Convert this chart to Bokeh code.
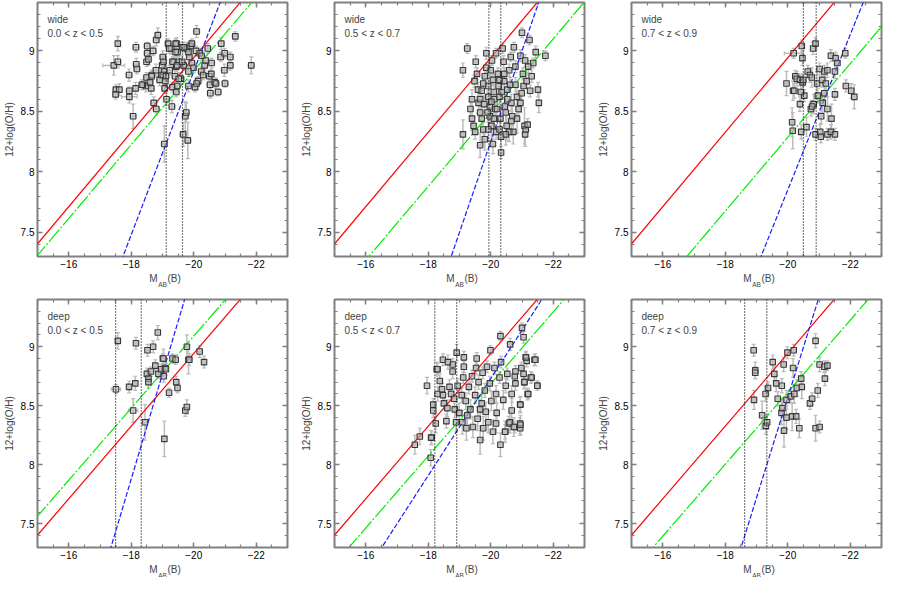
import numpy as np
from bokeh.plotting import figure
from bokeh.layouts import column, row
from bokeh.models import (Range1d, SingleIntervalTicker, CustomJSTickFormatter, LinearAxis,
                          Span, Label, Title, Whisker, TeeHead, ColumnDataSource)
from bokeh.embed import file_html
from bokeh.resources import INLINE

# each point: (M_AB(B), 12+log(O/H), err on O/H, err on M)
wide_z1 = [
    (-17.57, 9.06, 0.06, 0.05), (-17.44, 8.88, 0.08, 0.35), (-17.57, 8.91, 0.05, 0.10),
    (-17.51, 8.68, 0.04, 0.10), (-17.62, 8.68, 0.05, 0.10), (-17.50, 8.64, 0.04, 0.10),
    (-17.94, 8.62, 0.05, 0.25), (-17.94, 8.67, 0.03, 0.10), (-17.93, 8.80, 0.05, 0.10),
    (-18.06, 8.46, 0.10, 0.10), (-18.15, 9.03, 0.04, 0.10), (-18.16, 8.89, 0.05, 0.10),
    (-18.18, 8.85, 0.04, 0.10), (-18.14, 8.69, 0.05, 0.10), (-18.51, 9.04, 0.03, 0.10),
    (-18.51, 8.98, 0.03, 0.10), (-18.49, 8.91, 0.04, 0.10), (-18.55, 8.93, 0.05, 0.10),
    (-18.49, 8.78, 0.04, 0.10), (-18.47, 8.71, 0.05, 0.10), (-18.37, 8.72, 0.04, 0.10),
    (-18.60, 8.74, 0.05, 0.10), (-18.66, 8.80, 0.04, 0.10), (-18.64, 8.69, 0.05, 0.10),
    (-18.70, 9.00, 0.04, 0.10), (-18.79, 8.84, 0.05, 0.10), (-18.72, 8.57, 0.05, 0.10),
    (-18.80, 8.52, 0.05, 0.10), (-18.80, 9.09, 0.05, 0.10), (-18.85, 9.13, 0.06, 0.10),
    (-18.91, 8.76, 0.05, 0.10), (-18.96, 8.80, 0.05, 0.10), (-18.99, 8.88, 0.04, 0.10),
    (-19.01, 8.95, 0.05, 0.10), (-19.03, 8.91, 0.05, 0.10), (-19.06, 8.83, 0.04, 0.10),
    (-19.09, 8.75, 0.05, 0.10), (-19.07, 8.69, 0.04, 0.10), (-19.06, 8.23, 0.15, 0.10),
    (-19.13, 8.60, 0.05, 0.10), (-19.18, 9.06, 0.04, 0.10), (-19.23, 8.84, 0.04, 0.10),
    (-19.28, 9.02, 0.05, 0.10), (-19.30, 8.54, 0.05, 0.10), (-19.32, 8.70, 0.04, 0.10),
    (-19.36, 8.91, 0.04, 0.10), (-19.40, 8.79, 0.05, 0.10), (-19.44, 8.87, 0.04, 0.10),
    (-19.45, 9.06, 0.05, 0.10), (-19.48, 8.99, 0.04, 0.10), (-19.42, 8.99, 0.04, 0.10),
    (-19.44, 8.66, 0.04, 0.10), (-19.47, 8.71, 0.05, 0.10), (-19.52, 8.91, 0.04, 0.10),
    (-19.59, 8.77, 0.05, 0.10), (-19.63, 9.03, 0.04, 0.10), (-19.66, 8.31, 0.10, 0.10),
    (-19.68, 8.88, 0.04, 0.10), (-19.73, 8.46, 0.12, 0.10), (-19.76, 8.49, 0.08, 0.10),
    (-19.78, 9.02, 0.05, 0.10), (-19.81, 8.26, 0.15, 0.10), (-19.83, 8.71, 0.05, 0.10),
    (-19.86, 8.95, 0.04, 0.10), (-19.90, 9.04, 0.04, 0.10), (-19.94, 8.90, 0.04, 0.10),
    (-19.99, 8.86, 0.04, 0.10), (-20.04, 8.70, 0.04, 0.10), (-20.07, 9.00, 0.04, 0.10),
    (-20.09, 9.16, 0.05, 0.10), (-20.14, 8.75, 0.04, 0.10), (-20.19, 8.98, 0.04, 0.10),
    (-20.24, 8.83, 0.04, 0.10), (-20.30, 8.80, 0.04, 0.10), (-20.35, 8.88, 0.04, 0.10),
    (-20.38, 8.92, 0.04, 0.10), (-20.45, 9.02, 0.04, 0.10), (-20.50, 8.79, 0.04, 0.10),
    (-20.52, 8.72, 0.04, 0.10), (-20.53, 8.65, 0.04, 0.10), (-20.57, 8.90, 0.04, 0.10),
    (-20.67, 8.74, 0.04, 0.10), (-20.78, 8.66, 0.03, 0.10), (-20.86, 8.95, 0.04, 0.10),
    (-20.88, 9.06, 0.05, 0.10), (-20.98, 8.84, 0.05, 0.10), (-20.99, 8.98, 0.04, 0.10),
    (-21.00, 8.73, 0.03, 0.10), (-21.17, 8.95, 0.04, 0.10), (-21.17, 8.88, 0.04, 0.10),
    (-21.33, 9.12, 0.04, 0.10), (-21.84, 8.88, 0.07, 0.10), (-19.01, 8.80, 0.05, 0.10),
    (-19.11, 8.79, 0.04, 0.10), (-18.65, 8.79, 0.05, 0.10), (-18.34, 8.72, 0.04, 0.10),
    (-19.32, 8.91, 0.04, 0.10), (-19.47, 8.88, 0.04, 0.10), (-19.63, 8.91, 0.05, 0.10),
    (-19.83, 8.99, 0.04, 0.10), (-19.94, 9.06, 0.04, 0.10), (-20.25, 8.96, 0.04, 0.10),
    (-20.56, 8.81, 0.04, 0.10), (-20.71, 8.73, 0.04, 0.10), (-19.52, 8.77, 0.05, 0.10),
    (-19.83, 8.83, 0.04, 0.10), (-20.09, 8.73, 0.05, 0.10), (-19.22, 9.02, 0.04, 0.10),
    (-19.42, 9.06, 0.04, 0.10), (-19.68, 9.03, 0.04, 0.10),
]

wide_z2 = [
    (-19.25, 9.02, 0.04, 0.10), (-19.11, 8.84, 0.06, 0.05), (-19.11, 8.31, 0.12, 0.05),
    (-19.40, 8.60, 0.08, 0.05), (-19.35, 8.52, 0.06, 0.05), (-19.40, 8.44, 0.10, 0.05),
    (-19.45, 8.38, 0.07, 0.05), (-19.50, 8.33, 0.06, 0.05), (-19.52, 8.91, 0.05, 0.05),
    (-19.48, 8.75, 0.05, 0.05), (-19.59, 8.68, 0.06, 0.05), (-19.61, 8.57, 0.08, 0.05),
    (-19.66, 8.49, 0.07, 0.05), (-19.71, 8.44, 0.10, 0.05), (-19.76, 8.35, 0.06, 0.05),
    (-19.81, 8.27, 0.09, 0.05), (-19.81, 8.79, 0.05, 0.05), (-19.86, 8.98, 0.05, 0.05),
    (-19.86, 8.86, 0.04, 0.05), (-19.92, 8.71, 0.06, 0.05), (-19.92, 8.62, 0.05, 0.05),
    (-19.97, 8.54, 0.08, 0.05), (-19.97, 8.46, 0.06, 0.05), (-20.02, 8.38, 0.12, 0.05),
    (-20.00, 8.84, 0.05, 0.05), (-20.04, 8.92, 0.04, 0.05), (-20.07, 8.76, 0.05, 0.05),
    (-20.10, 8.66, 0.06, 0.05), (-20.12, 8.60, 0.07, 0.05), (-20.14, 8.52, 0.08, 0.05),
    (-20.17, 8.33, 0.06, 0.05), (-20.23, 8.81, 0.05, 0.05), (-20.25, 8.71, 0.05, 0.05),
    (-20.28, 8.62, 0.06, 0.05), (-20.31, 8.44, 0.10, 0.05), (-20.33, 8.29, 0.08, 0.05),
    (-20.33, 8.16, 0.05, 0.05), (-20.38, 9.02, 0.04, 0.05), (-20.41, 8.91, 0.05, 0.05),
    (-20.43, 8.75, 0.05, 0.05), (-20.45, 8.54, 0.07, 0.05), (-20.48, 8.49, 0.08, 0.05),
    (-20.51, 8.38, 0.12, 0.05), (-20.53, 8.68, 0.06, 0.05), (-20.59, 8.84, 0.05, 0.05),
    (-20.64, 8.95, 0.04, 0.05), (-20.66, 8.57, 0.07, 0.05), (-20.69, 8.46, 0.08, 0.05),
    (-20.72, 8.33, 0.10, 0.05), (-20.74, 9.03, 0.04, 0.05), (-20.79, 8.87, 0.05, 0.05),
    (-20.79, 8.72, 0.06, 0.05), (-20.84, 8.62, 0.08, 0.05), (-20.89, 8.52, 0.10, 0.05),
    (-20.95, 8.96, 0.05, 0.05), (-21.00, 9.15, 0.04, 0.05), (-21.03, 8.81, 0.05, 0.05),
    (-21.05, 8.71, 0.06, 0.05), (-21.08, 8.38, 0.15, 0.05), (-21.10, 8.92, 0.05, 0.05),
    (-21.15, 8.75, 0.06, 0.05), (-21.24, 9.09, 0.04, 0.05), (-21.26, 8.67, 0.05, 0.05),
    (-21.31, 8.79, 0.05, 0.05), (-21.36, 8.90, 0.04, 0.05), (-21.44, 8.99, 0.05, 0.05),
    (-21.51, 8.68, 0.06, 0.05), (-21.54, 8.57, 0.08, 0.05), (-21.75, 8.96, 0.04, 0.05),
    (-21.10, 8.31, 0.10, 0.05), (-20.84, 8.44, 0.12, 0.05), (-20.59, 8.33, 0.08, 0.05),
    (-19.66, 8.22, 0.10, 0.05), (-21.12, 8.35, 0.06, 0.05), (-21.18, 8.39, 0.05, 0.05),
    (-20.99, 8.65, 0.06, 0.05), (-21.20, 8.87, 0.05, 0.05), (-19.71, 8.67, 0.05, 0.05),
    (-19.56, 8.81, 0.05, 0.05), (-19.66, 8.60, 0.06, 0.05), (-19.76, 8.73, 0.05, 0.05),
    (-19.79, 8.56, 0.07, 0.05), (-19.90, 8.49, 0.08, 0.05), (-20.02, 8.58, 0.06, 0.05),
    (-20.10, 8.44, 0.09, 0.05), (-20.20, 8.52, 0.07, 0.05), (-20.28, 8.76, 0.05, 0.05),
    (-20.35, 8.66, 0.06, 0.05), (-20.43, 8.81, 0.05, 0.05), (-20.53, 8.60, 0.07, 0.05),
    (-20.62, 8.72, 0.06, 0.05), (-20.66, 8.42, 0.09, 0.05), (-19.92, 8.35, 0.10, 0.05),
    (-20.17, 8.98, 0.04, 0.05), (-20.07, 8.23, 0.08, 0.05), (-20.28, 8.35, 0.07, 0.05),
    (-20.48, 8.31, 0.09, 0.05), (-20.95, 8.57, 0.08, 0.05),
]

wide_z3 = [
    (-20.19, 8.98, 0.04, 0.30), (-20.45, 9.04, 0.05, 0.05), (-20.47, 8.94, 0.06, 0.05),
    (-20.81, 9.02, 0.05, 0.05), (-20.89, 9.06, 0.05, 0.05), (-19.96, 8.73, 0.10, 0.05),
    (-20.17, 8.67, 0.08, 0.05), (-20.21, 8.67, 0.06, 0.05), (-20.24, 8.79, 0.05, 0.05),
    (-20.29, 8.77, 0.06, 0.05), (-20.39, 8.76, 0.05, 0.05), (-20.48, 8.74, 0.06, 0.05),
    (-20.50, 8.76, 0.05, 0.05), (-20.53, 8.63, 0.05, 0.05), (-20.39, 8.56, 0.06, 0.05),
    (-20.42, 8.66, 0.08, 0.05), (-20.64, 8.83, 0.05, 0.05), (-20.71, 8.80, 0.06, 0.05),
    (-20.77, 8.78, 0.08, 0.05), (-20.94, 8.73, 0.10, 0.05), (-20.96, 8.63, 0.06, 0.05),
    (-21.02, 8.85, 0.05, 0.05), (-21.10, 8.76, 0.06, 0.05), (-21.17, 8.83, 0.05, 0.05),
    (-21.22, 8.73, 0.08, 0.05), (-21.27, 8.84, 0.06, 0.05), (-21.38, 8.96, 0.05, 0.05),
    (-21.53, 8.94, 0.05, 0.05), (-21.51, 8.83, 0.06, 0.05), (-21.59, 8.90, 0.05, 0.05),
    (-21.17, 8.65, 0.10, 0.05), (-21.51, 8.64, 0.05, 0.05), (-21.12, 8.57, 0.08, 0.05),
    (-21.27, 8.52, 0.10, 0.05), (-21.40, 8.44, 0.12, 0.05), (-21.07, 8.46, 0.06, 0.05),
    (-20.74, 8.52, 0.06, 0.05), (-20.83, 8.56, 0.08, 0.05), (-20.78, 8.54, 0.05, 0.05),
    (-20.60, 8.37, 0.08, 0.05), (-20.43, 8.33, 0.06, 0.05), (-20.89, 8.31, 0.05, 0.05),
    (-21.04, 8.33, 0.06, 0.05), (-21.06, 8.29, 0.05, 0.05), (-21.27, 8.31, 0.05, 0.05),
    (-21.38, 8.33, 0.06, 0.05), (-21.51, 8.31, 0.05, 0.05), (-20.14, 8.41, 0.12, 0.05),
    (-20.16, 8.34, 0.15, 0.05), (-21.86, 8.71, 0.05, 0.05), (-22.03, 8.67, 0.06, 0.05),
    (-22.13, 8.62, 0.10, 0.05), (-21.84, 8.98, 0.04, 0.05),
]

deep_z1 = [
    (-17.57, 9.05, 0.07, 0.05), (-17.51, 8.64, 0.04, 0.15), (-17.93, 8.66, 0.05, 0.05),
    (-18.06, 8.46, 0.10, 0.15), (-18.13, 8.69, 0.06, 0.05), (-18.15, 9.03, 0.05, 0.05),
    (-18.44, 8.36, 0.15, 0.05), (-18.50, 8.77, 0.05, 0.05), (-18.52, 8.97, 0.05, 0.05),
    (-18.55, 8.73, 0.04, 0.05), (-18.55, 8.70, 0.05, 0.05), (-18.63, 8.79, 0.04, 0.05),
    (-18.70, 9.00, 0.05, 0.05), (-18.77, 8.84, 0.05, 0.05), (-18.85, 9.12, 0.06, 0.05),
    (-18.87, 8.77, 0.04, 0.05), (-18.96, 8.81, 0.04, 0.05), (-19.01, 8.90, 0.04, 0.05),
    (-19.03, 8.90, 0.08, 0.05), (-19.04, 8.75, 0.05, 0.05), (-19.08, 8.82, 0.04, 0.05),
    (-19.06, 8.22, 0.15, 0.05), (-19.11, 8.81, 0.05, 0.05), (-19.21, 8.61, 0.04, 0.05),
    (-19.32, 8.90, 0.04, 0.05), (-19.42, 8.89, 0.04, 0.05), (-19.44, 8.70, 0.05, 0.05),
    (-19.48, 8.65, 0.04, 0.05), (-19.73, 8.46, 0.05, 0.05), (-19.78, 8.49, 0.06, 0.05),
    (-19.78, 9.00, 0.10, 0.05), (-19.83, 8.89, 0.12, 0.05), (-19.86, 8.89, 0.05, 0.05),
    (-20.19, 8.96, 0.05, 0.05), (-20.33, 8.87, 0.05, 0.05),
]

deep_z2 = [
    (-17.57, 8.17, 0.08, 0.05), (-17.73, 8.24, 0.07, 0.05), (-17.96, 8.67, 0.07, 0.05),
    (-18.08, 8.06, 0.07, 0.05), (-18.11, 8.23, 0.06, 0.05), (-18.16, 8.46, 0.06, 0.05),
    (-18.27, 8.81, 0.06, 0.05), (-18.47, 8.89, 0.05, 0.05), (-18.91, 8.95, 0.07, 0.05),
    (-19.99, 8.97, 0.04, 0.05), (-20.31, 9.09, 0.04, 0.05), (-20.62, 9.02, 0.05, 0.05),
    (-21.00, 9.16, 0.04, 0.05), (-21.05, 9.08, 0.05, 0.05), (-21.12, 8.91, 0.04, 0.05),
    (-21.15, 8.88, 0.05, 0.05), (-21.40, 8.89, 0.05, 0.05), (-21.49, 8.67, 0.04, 0.05),
    (-21.28, 8.74, 0.05, 0.05), (-21.18, 8.60, 0.05, 0.05), (-21.07, 8.70, 0.05, 0.05),
    (-20.94, 8.51, 0.06, 0.05), (-20.94, 8.35, 0.05, 0.05), (-20.94, 8.31, 0.06, 0.05),
    (-20.31, 8.17, 0.10, 0.05), (-20.17, 8.35, 0.08, 0.05), (-20.46, 8.28, 0.06, 0.05),
    (-20.58, 8.35, 0.06, 0.05), (-20.76, 8.32, 0.05, 0.05), (-20.67, 8.46, 0.10, 0.05),
    (-18.09, 8.23, 0.06, 0.05), (-18.16, 8.51, 0.05, 0.05), (-18.24, 8.35, 0.08, 0.05),
    (-18.30, 8.81, 0.05, 0.05), (-18.30, 8.60, 0.06, 0.05), (-18.37, 8.71, 0.06, 0.05),
    (-18.44, 8.64, 0.05, 0.05), (-18.47, 8.59, 0.07, 0.05), (-18.50, 8.52, 0.05, 0.05),
    (-18.58, 8.37, 0.06, 0.05), (-18.61, 8.48, 0.07, 0.05), (-18.68, 8.66, 0.06, 0.05),
    (-18.73, 8.60, 0.05, 0.05), (-18.78, 8.85, 0.05, 0.05), (-18.78, 8.79, 0.06, 0.05),
    (-18.83, 8.56, 0.08, 0.05), (-18.85, 8.47, 0.07, 0.05), (-18.89, 8.36, 0.08, 0.05),
    (-18.94, 8.67, 0.06, 0.05), (-18.99, 8.44, 0.08, 0.05), (-19.07, 8.59, 0.06, 0.05),
    (-19.09, 8.36, 0.10, 0.05), (-19.12, 8.74, 0.05, 0.05), (-19.14, 8.83, 0.05, 0.05),
    (-19.20, 8.54, 0.07, 0.05), (-19.22, 8.31, 0.10, 0.05), (-19.30, 8.66, 0.06, 0.05),
    (-19.35, 8.47, 0.08, 0.05), (-19.40, 8.75, 0.05, 0.05), (-19.43, 8.32, 0.09, 0.05),
    (-19.50, 8.59, 0.07, 0.05), (-19.53, 8.82, 0.05, 0.05), (-19.58, 8.39, 0.10, 0.05),
    (-19.61, 8.70, 0.06, 0.05), (-19.66, 8.21, 0.12, 0.05), (-19.71, 8.52, 0.08, 0.05),
    (-19.74, 8.78, 0.05, 0.05), (-19.76, 8.31, 0.10, 0.05), (-19.81, 8.63, 0.06, 0.05),
    (-19.84, 8.45, 0.08, 0.05), (-19.88, 8.83, 0.05, 0.05), (-19.92, 8.36, 0.09, 0.05),
    (-19.97, 8.69, 0.06, 0.05), (-20.02, 8.54, 0.08, 0.05), (-20.07, 8.28, 0.10, 0.05),
    (-20.12, 8.82, 0.05, 0.05), (-20.17, 8.60, 0.07, 0.05), (-20.19, 8.44, 0.08, 0.05),
    (-20.28, 8.74, 0.05, 0.05), (-20.33, 8.87, 0.05, 0.05), (-20.40, 8.55, 0.08, 0.05),
    (-20.46, 8.28, 0.09, 0.05), (-20.48, 8.67, 0.06, 0.05), (-20.53, 8.77, 0.05, 0.05),
    (-20.61, 8.36, 0.09, 0.05), (-20.67, 8.60, 0.07, 0.05), (-20.74, 8.32, 0.08, 0.05),
    (-20.77, 8.75, 0.05, 0.05), (-20.79, 8.69, 0.06, 0.05), (-20.95, 8.51, 0.07, 0.05),
    (-20.95, 8.34, 0.08, 0.05), (-20.98, 8.82, 0.05, 0.05), (-21.05, 8.77, 0.05, 0.05),
    (-21.08, 8.70, 0.06, 0.05), (-21.13, 8.91, 0.05, 0.05), (-21.20, 8.60, 0.04, 0.05),
    (-21.31, 8.74, 0.04, 0.05), (-21.43, 8.89, 0.05, 0.05), (-21.49, 8.67, 0.04, 0.05),
    (-19.55, 8.90, 0.05, 0.05), (-19.14, 8.91, 0.05, 0.05), (-18.63, 8.87, 0.06, 0.05),
    (-20.79, 8.79, 0.05, 0.05), (-19.66, 8.47, 0.08, 0.05), (-19.25, 8.42, 0.08, 0.05),
]

deep_z3 = [
    (-18.91, 8.97, 0.05, 0.05), (-18.96, 8.80, 0.07, 0.05), (-18.96, 8.78, 0.05, 0.05),
    (-18.92, 8.55, 0.08, 0.05), (-19.18, 8.42, 0.12, 0.05), (-19.29, 8.60, 0.06, 0.05),
    (-19.30, 8.33, 0.07, 0.05), (-19.34, 8.36, 0.06, 0.05), (-19.37, 8.65, 0.05, 0.05),
    (-19.52, 8.87, 0.06, 0.05), (-19.57, 8.77, 0.06, 0.05), (-19.63, 8.69, 0.07, 0.05),
    (-19.68, 8.56, 0.06, 0.05), (-19.81, 8.67, 0.06, 0.05), (-19.80, 8.44, 0.10, 0.05),
    (-19.83, 8.48, 0.08, 0.05), (-19.87, 8.85, 0.06, 0.05), (-19.88, 8.29, 0.14, 0.05),
    (-19.96, 8.40, 0.10, 0.05), (-19.96, 8.55, 0.08, 0.05), (-19.99, 8.95, 0.05, 0.05),
    (-20.09, 8.58, 0.06, 0.05), (-20.14, 8.41, 0.12, 0.05), (-20.17, 8.82, 0.08, 0.05),
    (-20.19, 8.97, 0.05, 0.05), (-20.21, 8.60, 0.08, 0.05), (-20.27, 8.41, 0.06, 0.05),
    (-20.29, 8.65, 0.07, 0.05), (-20.37, 8.31, 0.08, 0.05), (-20.43, 8.73, 0.06, 0.05),
    (-20.45, 8.66, 0.10, 0.05), (-20.71, 8.52, 0.05, 0.05), (-20.78, 8.56, 0.05, 0.05),
    (-20.89, 9.05, 0.06, 0.05), (-20.89, 8.31, 0.11, 0.05), (-20.96, 8.63, 0.06, 0.05),
    (-21.02, 8.32, 0.05, 0.05), (-21.02, 8.85, 0.06, 0.05), (-21.17, 8.83, 0.05, 0.05),
    (-21.19, 8.73, 0.06, 0.05), (-21.27, 8.84, 0.04, 0.05),
]

panel_data = [wide_z1, wide_z2, wide_z3, deep_z1, deep_z2, deep_z3]
surveys = ["wide", "wide", "wide", "deep", "deep", "deep"]
zbins = ["0.0 < z < 0.5", "0.5 < z < 0.7", "0.7 < z < 0.9"] * 2

# relations: 12+log(O/H) at M=-20 and slope per magnitude (brighter -> higher)
red_at20, red_slope = 8.943, 0.3077
green_at20 = [8.835, 8.49, 8.285, 9.09, 8.685, 8.615]
green_slope = 0.305
blue_at20 = [8.83, 8.25, 7.85, 9.66, 8.73, 8.57]
blue_slope = [0.675, 0.75, 0.642, 0.89, 0.41, 0.85]
# vertical dotted limits
vlines = [(-19.12, -19.64), (-19.94, -20.32), (-20.50, -20.91),
          (-17.50, -18.32), (-18.21, -18.91), (-18.62, -19.33)]

FONT = "Liberation Sans"
FRAME = "#808080"


def relation(at20, slope, xs):
    return at20 + slope * (-20.0 - xs)


def make_panel(i):
    top = i < 3
    p = figure(width=297, height=287 if top else 290,
               x_range=Range1d(-15, -23), y_range=Range1d(7.3, 9.4),
               output_backend="svg", toolbar_location=None,
               min_border_left=31, min_border_right=10,
               min_border_top=2 if top else 12, min_border_bottom=31 if top else 24,
               background_fill_color="white", border_fill_color="white")
    p.grid.visible = False
    p.outline_line_color = FRAME
    p.outline_line_width = 2

    xt = SingleIntervalTicker(interval=2, num_minor_ticks=4)
    yt = SingleIntervalTicker(interval=0.5, num_minor_ticks=5)
    p.xaxis.ticker = xt
    p.yaxis.ticker = yt
    p.xaxis.formatter = CustomJSTickFormatter(code="return (tick < 0 ? '\\u2212' : '') + Math.abs(tick);")
    p.yaxis.formatter = CustomJSTickFormatter(code="return String(tick);")
    # ticks on the top and right sides too, without labels
    blank = CustomJSTickFormatter(code="return '';")
    p.add_layout(LinearAxis(ticker=xt, formatter=blank, major_label_standoff=0), "above")
    p.add_layout(LinearAxis(ticker=yt, formatter=blank, major_label_standoff=0), "right")
    for ax in p.axis:
        ax.axis_line_color = None
        ax.major_tick_in = 5
        ax.major_tick_out = 0
        ax.minor_tick_in = 3
        ax.minor_tick_out = 0
        ax.major_tick_line_color = FRAME
        ax.minor_tick_line_color = FRAME
        ax.major_tick_line_width = 1.5
        ax.minor_tick_line_width = 1.2
        ax.major_label_text_font = FONT
        ax.major_label_text_color = "black"
        ax.major_label_text_font_size = "10px"
    xa = p.below[0]
    ya = p.left[0]
    xa.major_label_standoff = 3
    ya.major_label_standoff = 3
    ya.axis_label = "12+log(O/H)"
    ya.axis_label_text_font = FONT
    ya.axis_label_text_font_size = "10px"
    ya.axis_label_text_font_style = "normal"
    ya.axis_label_standoff = 3
    # M_AB(B): the subscript is a small title pulled up under the axis label gap
    xa.axis_label = "\u2002M" + "\u2009" * 5 + "(B)"
    xa.axis_label_text_font = FONT
    xa.axis_label_text_font_size = "10px"
    xa.axis_label_text_font_style = "normal"
    xa.axis_label_standoff = 2
    p.add_layout(Title(text="AB", align="center", vertical_align="top", standoff=-12,
                       text_font=FONT, text_font_size="6.5px", text_font_style="normal"), "below")

    pts = panel_data[i]
    mag = np.array([t[0] for t in pts])
    oh = np.array([t[1] for t in pts])
    doh = np.array([t[2] for t in pts])
    dmag = np.array([t[3] for t in pts])
    src = ColumnDataSource(dict(mag=mag, oh=oh, oh_lo=oh - doh, oh_hi=oh + doh,
                                mag_lo=mag + dmag, mag_hi=mag - dmag))
    err_col = "#bcbcbc"
    for base, lo, hi, dim in (("mag", "oh_lo", "oh_hi", "height"), ("oh", "mag_lo", "mag_hi", "width")):
        p.add_layout(Whisker(base=base, lower=lo, upper=hi, dimension=dim, source=src,
                             line_color=err_col, line_width=1.5, level="underlay",
                             lower_head=TeeHead(size=4, line_color=err_col, line_width=1.2),
                             upper_head=TeeHead(size=4, line_color=err_col, line_width=1.2)))

    xs = np.array([-14.0, -24.0])
    p.line(xs, relation(red_at20, red_slope, xs), line_color="#ff0000", line_width=1.2)
    p.line(xs, relation(green_at20[i], green_slope, xs), line_color="#00ee00",
           line_width=1.2, line_dash="16 2 2 2")
    p.line(xs, relation(blue_at20[i], blue_slope[i], xs), line_color="#1a1aff",
           line_width=1.2, line_dash="5 2")
    for v in vlines[i]:
        p.add_layout(Span(location=v, dimension="height", line_color="black",
                          line_width=1.2, line_dash="1 2"))

    p.scatter("mag", "oh", source=src, marker="square", size=5.5, line_color="#383838",
              line_width=1.1, fill_color="#c0c0c0", fill_alpha=0.5)

    p.add_layout(Label(x=-15, y=9.4, x_offset=10, y_offset=-17, text=surveys[i],
                       text_font=FONT, text_font_size="10px", text_baseline="middle"))
    p.add_layout(Label(x=-15, y=9.4, x_offset=10, y_offset=-31, text=zbins[i],
                       text_font=FONT, text_font_size="10px", text_baseline="middle"))
    return p


panels = [make_panel(i) for i in range(6)]
layout = column(row(*panels[:3]), row(*panels[3:]))

open("out.html", "w").write(file_html(layout, INLINE))
